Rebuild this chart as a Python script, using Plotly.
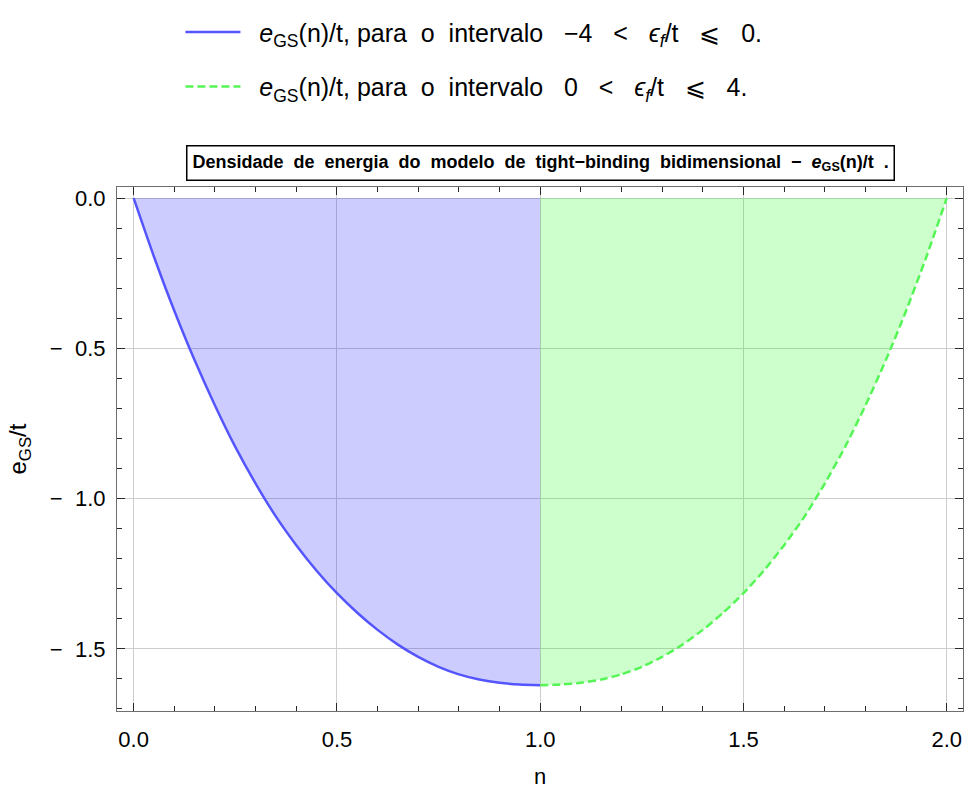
import plotly.graph_objects as go

# ---- data ----
n_blue = [0.00, 0.05, 0.10, 0.15, 0.20, 0.25, 0.30, 0.35, 0.40, 0.45, 0.50,
          0.55, 0.60, 0.65, 0.70, 0.75, 0.80, 0.85, 0.90, 0.95, 1.00]
e_blue = [0.000, -0.195, -0.375, -0.540, -0.690, -0.828, -0.950, -1.060, -1.155, -1.240, -1.315,
          -1.380, -1.437, -1.486, -1.527, -1.560, -1.585, -1.602, -1.613, -1.619, -1.621]

n_green = [1.00, 1.05, 1.10, 1.15, 1.20, 1.25, 1.30, 1.35, 1.40, 1.45, 1.50,
           1.55, 1.60, 1.65, 1.70, 1.75, 1.80, 1.85, 1.90, 1.95, 2.00]
e_green = [-1.621, -1.619, -1.613, -1.602, -1.585, -1.560, -1.527, -1.486, -1.437, -1.380, -1.315,
           -1.240, -1.155, -1.060, -0.950, -0.828, -0.690, -0.540, -0.375, -0.195, 0.000]

x_ticks = [0.0, 0.5, 1.0, 1.5, 2.0]
x_ticklabels = ["0.0", "0.5", "1.0", "1.5", "2.0"]
y_ticks = [0.0, -0.5, -1.0, -1.5]
y_ticklabels = ["0.0", "\u2212\u00a0\u00a00.5", "\u2212\u00a0\u00a01.0", "\u2212\u00a0\u00a01.5"]

NB = "\u00a0"
G3 = NB * 2 + " "
name_blue = (NB * 2 + "<i>e</i><sub>GS</sub>(n)/t, para" + NB + " o" + NB + " intervalo" + NB * 3
             + "\u22124" + G3 + "<" + G3 + "<i>\u03f5</i><sub><i>f</i></sub>/t" + G3 + "\u2a7d" + G3 + "0.")
name_green = (NB * 2 + "<i>e</i><sub>GS</sub>(n)/t, para" + NB + " o" + NB + " intervalo" + NB * 2
              + " 0" + G3 + "<" + G3 + "<i>\u03f5</i><sub><i>f</i></sub>/t" + G3 + "\u2a7d" + G3 + "4.")
SP = NB + " "
title_words = ["Densidade", "de", "energia", "do", "modelo", "de", "tight\u2212binding", "bidimensional",
               "\u2212", "<i>e</i><sub>GS</sub>(n)/t", "."]
title_text = "<b>" + SP.join(title_words) + "</b>"

FONT = "Liberation Sans, Arial, sans-serif"
BLUE_LINE = "rgb(85,85,255)"
GREEN_LINE = "rgb(85,245,85)"

fig = go.Figure()
# filled regions (no legend entries)
fig.add_trace(go.Scatter(
    x=n_blue, y=e_blue, mode="lines", showlegend=False, hoverinfo="skip",
    line=dict(width=0, shape="spline", smoothing=0.6),
    fill="tozeroy", fillcolor="rgba(0,0,255,0.2)",
))
fig.add_trace(go.Scatter(
    x=n_green, y=e_green, mode="lines", showlegend=False, hoverinfo="skip",
    line=dict(width=0, shape="spline", smoothing=0.6),
    fill="tozeroy", fillcolor="rgba(0,255,0,0.2)",
))
# curves
fig.add_trace(go.Scatter(
    x=n_blue, y=e_blue, mode="lines", name=name_blue, legendgroup="a",
    line=dict(color=BLUE_LINE, width=2.5, shape="spline", smoothing=0.6),
))
fig.add_trace(go.Scatter(
    x=n_green, y=e_green, mode="lines", name=name_green, legendgroup="b",
    line=dict(color=GREEN_LINE, width=2.5, dash="8px,4px", shape="spline", smoothing=0.6),
))

axis_common = dict(
    showline=True, linecolor="rgb(110,110,110)", linewidth=1.2, mirror="allticks",
    ticks="inside", ticklen=8, tickwidth=1, tickcolor="rgb(40,40,40)",
    showgrid=True, gridcolor="rgb(205,205,205)", gridwidth=1, zeroline=False,
    tickfont=dict(family=FONT, size=22, color="black"),
    minor=dict(ticks="inside", ticklen=5, tickwidth=1, tickcolor="rgb(40,40,40)",
               dtick=0.1, showgrid=False),
)

fig.update_xaxes(
    range=[-0.041, 2.040], tickmode="array", tickvals=x_ticks, ticktext=x_ticklabels,
    ticklabelstandoff=8,
    title=dict(text="n", font=dict(family=FONT, size=22, color="black"), standoff=18),
    **axis_common,
)
fig.update_yaxes(
    range=[-1.707, 0.037], tickmode="array", tickvals=y_ticks, ticktext=y_ticklabels,
    ticklabelstandoff=6,
    title=dict(text="e<sub>GS</sub>/t", font=dict(family=FONT, size=24, color="black"), standoff=16),
    **axis_common,
)

fig.add_annotation(
    x=0.5, y=1.0, xref="paper", yref="paper", yshift=24, showarrow=False,
    text=title_text, font=dict(family=FONT, size=18, color="black"),
    bordercolor="black", borderwidth=1.5, borderpad=5, bgcolor="white",
    xanchor="center", yanchor="middle",
)

fig.update_layout(
    width=970, height=800,
    margin=dict(l=117, r=7, t=187, b=89),
    paper_bgcolor="white", plot_bgcolor="white",
    showlegend=True,
    legend=dict(
        x=0.075, y=1.339, xanchor="left", yanchor="top",
        font=dict(family=FONT, size=25, color="black"),
        tracegroupgap=19, itemwidth=55, bgcolor="rgba(0,0,0,0)",
    ),
    font=dict(family=FONT),
)

fig.write_html("out.html")
